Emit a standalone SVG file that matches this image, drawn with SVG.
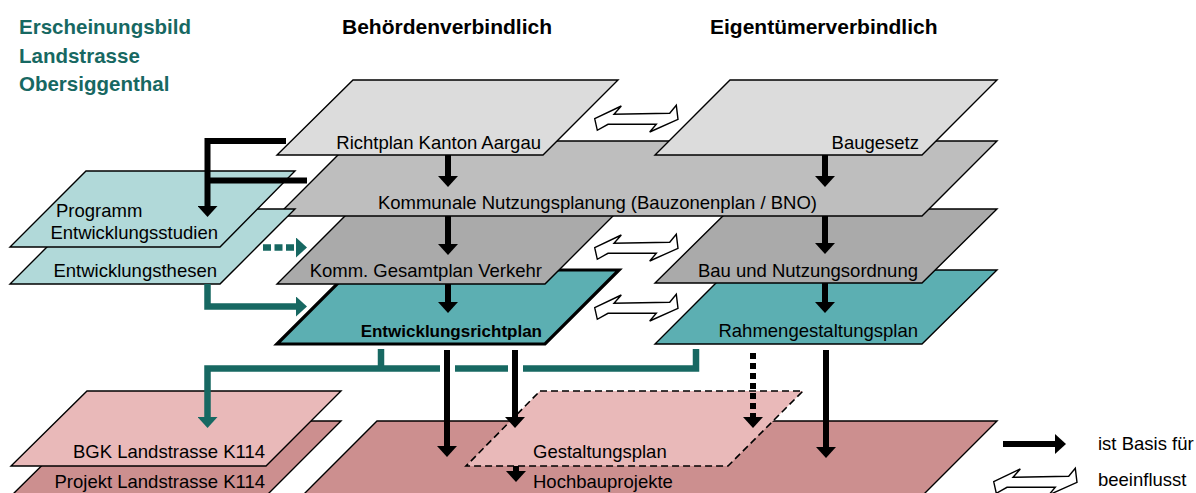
<svg xmlns="http://www.w3.org/2000/svg" xmlns:xlink="http://www.w3.org/1999/xlink" width="1196" height="493" viewBox="0 0 1196 493">
<style>
.pl{stroke:#000;stroke-width:1.4;stroke-linejoin:miter}
.g1{fill:#DCDCDC}.g2{fill:#BEBEBE}.g3{fill:#AAAAAA}
.tl{fill:#5CAFB2}.lt{fill:#B1D9D9}.pk1{fill:#E9B9B9}.pk2{fill:#CC8F8F}
text{font-family:"Liberation Sans",Arial,sans-serif;font-size:18.5px;fill:#000}
.hd{font-weight:bold;font-size:21px}
.ti{font-weight:bold;font-size:20.5px;fill:#176862}
.bd{font-weight:bold;font-size:17px}
.bk{fill:none;stroke:#000;stroke-width:6;marker-end:url(#ah)}
.bkn{fill:none;stroke:#000;stroke-width:6}
.te{fill:none;stroke:#176862;stroke-width:6.5}
.tea{fill:none;stroke:#176862;stroke-width:6.5;marker-end:url(#aht)}
.hol{fill:#fff;stroke:#000;stroke-width:1.4;stroke-linejoin:miter}
</style>
<defs>
<marker id="ah" viewBox="0 0 11 20" refX="0" refY="10" markerWidth="11" markerHeight="20" markerUnits="userSpaceOnUse" orient="auto"><path d="M0,0 L11,10 L0,20 Z" fill="#000"/></marker>
<marker id="aht" viewBox="0 0 11 20" refX="0" refY="10" markerWidth="11" markerHeight="20" markerUnits="userSpaceOnUse" orient="auto"><path d="M0,0 L11,10 L0,20 Z" fill="#176862"/></marker>
<path id="hollow" class="hol" d="M0.7,13.7 L27.3,1 L20,9.3 L75.7,8.3 L82.3,0.3 L84,14.3 L55.7,27 L62.3,19.3 L14,19.3 L3.3,25.3 Z"/>
</defs>

<g id="title">
<text class="ti" x="19" y="34">Erscheinungsbild</text>
<text class="ti" x="19" y="63">Landstrasse</text>
<text class="ti" x="19" y="91">Obersiggenthal</text>
</g>
<g id="headers">
<text class="hd" x="342" y="34">Behördenverbindlich</text>
<text class="hd" x="710" y="34">Eigentümerverbindlich</text>
</g>

<g id="hochbau">
<polygon class="pl pk2" points="377,421 997,421 922,496 302,496"/>
<text x="533" y="488">Hochbauprojekte</text>
</g>
<g id="projekt">
<polygon class="pl pk2" points="87,421 341,421 266,496 11,496"/>
<text x="265" y="488" text-anchor="end">Projekt Landstrasse K114</text>
</g>
<g id="bgk">
<polygon class="pl pk1" points="87,391 341,391 266,466 11,466"/>
<text x="265" y="458" text-anchor="end">BGK Landstrasse K114</text>
</g>
<g id="gestaltungsplan">
<polygon class="pk1" stroke="#000" stroke-width="1.6" stroke-dasharray="7 4" points="540,391 803,391 728,466 466,466"/>
<text x="533" y="458">Gestaltungsplan</text>
</g>

<g id="rahmen">
<polygon class="pl tl" points="729,270 997,270 922,344 655,344"/>
<text x="918" y="337" text-anchor="end">Rahmengestaltungsplan</text>
</g>
<g id="entwicklungsrichtplan">
<polygon class="tl" stroke="#000" stroke-width="3.2" points="351,270 619,270 545,344 277,344"/>
<text class="bd" x="542" y="337" text-anchor="end">Entwicklungsrichtplan</text>
</g>
<g id="bno">
<polygon class="pl g3" points="730,209 997,209 922,283 655,283"/>
<text x="918" y="277" text-anchor="end">Bau und Nutzungsordnung</text>
</g>
<g id="gesamtplan">
<polygon class="pl g3" points="352,209 620,209 545,284 277,284"/>
<text x="542" y="277" text-anchor="end">Komm. Gesamtplan Verkehr</text>
</g>
<g id="kommunale">
<polygon class="pl g2" points="352,141 997,141 922,216 277,216"/>
<text x="817" y="209" text-anchor="end">Kommunale Nutzungsplanung (Bauzonenplan / BNO)</text>
</g>
<g id="baugesetz">
<polygon class="pl g1" points="730,80 997,80 922,155 655,155"/>
<text x="919" y="149" text-anchor="end">Baugesetz</text>
</g>
<g id="richtplan">
<polygon class="pl g1" points="353,80 618,80 543,155 277,155"/>
<text x="541" y="149" text-anchor="end">Richtplan Kanton Aargau</text>
</g>

<g id="thesen">
<polygon class="pl lt" points="85,209 295,209 220,284 10,284"/>
<text x="217" y="277" text-anchor="end">Entwicklungsthesen</text>
</g>
<g id="programm">
<polygon class="pl lt" points="86,171 295,171 220,247 10,247"/>
<text x="56" y="217">Programm</text>
<text x="218" y="239" text-anchor="end">Entwicklungsstudien</text>
</g>

<g id="connectors">
<path class="bk" d="M286,141 H207.5 V206"/>
<path class="bkn" d="M307,180.5 H207.5"/>
<path class="bk" d="M448,155 V176"/>
<path class="bk" d="M448,216 V244"/>
<path class="bk" d="M825,155 V176"/>
<path class="bk" d="M825,216 V243"/>
<path class="bk" d="M448,284 V302"/>
<path class="bk" d="M825,283 V302"/>
<path class="tea" d="M263,247.5 H296" stroke-dasharray="8 3.5"/>
<path class="tea" d="M207.5,284 V306.5 H296" stroke-linejoin="miter"/>
<path class="te" d="M381,349 V368.5"/>
<path class="te" d="M696,349 V368.5 H523" stroke-linejoin="miter"/>
<path class="te" d="M508,368.5 H455"/>
<path class="tea" d="M440,368.5 H207.5 V417" stroke-linejoin="miter"/>
<path class="bk" d="M447,350 V446"/>
<path class="bk" d="M515,350 V417"/>
<path class="bk" d="M826,350 V447"/>
<path class="bk" d="M753,353 V417" stroke-dasharray="6 4"/>
<path class="bk" d="M516,466 V471"/>
<use xlink:href="#hollow" href="#hollow" transform="translate(594,105)"/>
<use xlink:href="#hollow" href="#hollow" transform="translate(594,234)"/>
<use xlink:href="#hollow" href="#hollow" transform="translate(594,294)"/>
</g>

<g id="legend">
<path class="bk" d="M1003,444 H1055"/>
<text x="1098" y="450">ist Basis für</text>
<use xlink:href="#hollow" href="#hollow" transform="translate(993,468)"/>
<text x="1098" y="486">beeinflusst</text>
</g>
</svg>
